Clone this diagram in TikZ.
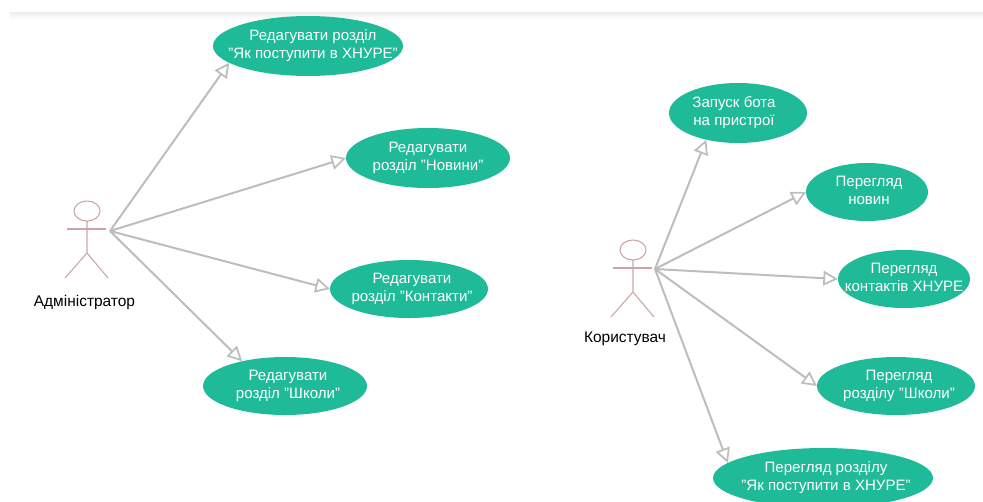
\documentclass[tikz,border=0pt]{standalone}
\usepackage{fontspec}
\setmainfont{Liberation Sans}
\usetikzlibrary{arrows.meta, shapes.geometric}
\definecolor{ucgreen}{HTML}{1FBA98}
\definecolor{linegray}{HTML}{BDBDBD}
\definecolor{actorred}{HTML}{CDA4A4}
\newcommand{\uctext}[2][0]{\makebox[0pt]{\hspace*{#1pt}\begin{tabular}{@{}c@{}}#2\end{tabular}}}
\newcommand{\actorman}[1]{%
	\draw[actorline] (#1) ++(0,-18) ellipse (13 and 10);
	\draw[actorline] (#1) ++(0,-8) -- ++(0,32) ++(-22,25) -- ++(22,-25) -- ++(21,25);
	\draw[actorline] (#1) ++(-20,0) -- ++(39,0);
}
\begin{document}
\begin{tikzpicture}[x=0.75pt, y=-0.75pt,
			usecase/.style={ellipse, fill=ucgreen, text=white, inner sep=0pt, outer sep=0pt, font=\fontsize{11.3}{13.5}\selectfont},
			actorline/.style={draw=actorred, line width=0.8pt},
			actorname/.style={font=\fontsize{11.6}{13.5}\selectfont, inner sep=0pt},
			link/.style={draw=linegray, line width=1.5pt, -{Triangle[open, length=11pt, width=11pt, line width=1.3pt]}}]
			\useasboundingbox (0,0) rectangle (983,501);
			
			% Smuga zgori
			\shade[top color=black!7, bottom color=white] (10,12) rectangle (983,19);
			
			% Administrator
			\coordinate (adminhand) at (110,231);
			\actorman{87,229}
			\node[actorname] (admin) at (84.5,302) {Адміністратор};
			
			\node[usecase, minimum width=142.5pt, minimum height=45pt] (rozdil) at (308,46) {\uctext[7.5]{Редагувати розділ\\"Як поступити в ХНУРЕ"}};
			\node[usecase, minimum width=123pt, minimum height=45pt] (novyny) at (428,158) {\uctext{Редагувати\\розділ "Новини"}};
			\node[usecase, minimum width=118.5pt, minimum height=43.5pt] (kontakty) at (409,289) {\uctext[4.5]{Редагувати\\розділ "Контакти"}};
			\node[usecase, minimum width=123pt, minimum height=43.5pt] (shkoly) at (285,386) {\uctext[4.5]{Редагувати\\розділ "Школи"}};
			
			\draw[link] (adminhand) -- (rozdil.192);
			\draw[link] (adminhand) -- (novyny.180);
			\draw[link] (adminhand) -- (kontakty.180);
			\draw[link] (adminhand) -- (shkoly.150);
			
			% Korystuvach
			\coordinate (userhand) at (655,269);
			\actorman{633,268}
			\node[actorname] (user) at (625,339) {Користувач};
			
			\node[usecase, minimum width=103.5pt, minimum height=45pt] (zapusk) at (738,113) {\uctext[-6]{Запуск бота\\на пристрої}};
			\node[usecase, minimum width=91.5pt, minimum height=43.5pt] (pnovyn) at (867,192) {\uctext[3]{Перегляд\\новин}};
			\node[usecase, minimum width=99pt, minimum height=43.5pt] (pkontakt) at (904,279) {\uctext{Перегляд\\контактів ХНУРЕ}};
			\node[usecase, minimum width=118.5pt, minimum height=43.5pt] (pshkoly) at (896,386) {\uctext[4.5]{Перегляд\\розділу "Школи"}};
			\node[usecase, minimum width=165pt, minimum height=45pt] (prozdil) at (823,478) {\uctext[4.5]{Перегляд розділу\\"Як поступити в ХНУРЕ"}};
			
			\draw[link] (userhand) -- (zapusk.220);
			\draw[link] (userhand) -- (pnovyn.180);
			\draw[link] (userhand) -- (pkontakt.180);
			\draw[link] (userhand) -- (pshkoly.180);
			\draw[link] (userhand) -- (prozdil.171);
		\end{tikzpicture}
\end{document}
